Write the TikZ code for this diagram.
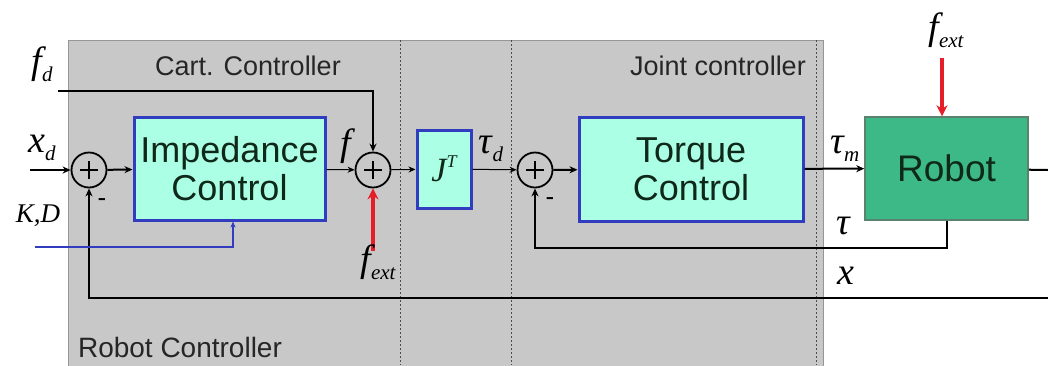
\documentclass[tikz,border=0pt]{standalone}
\usepackage{fontspec}
\setmainfont{Liberation Sans}
\newfontfamily\tms{Liberation Serif}
\usetikzlibrary{arrows.meta}
\definecolor{bggray}{RGB}{200,200,200}
\definecolor{bgedge}{RGB}{150,150,150}
\definecolor{boxfill}{RGB}{170,255,228}
\definecolor{boxedge}{RGB}{50,60,190}
\definecolor{robfill}{RGB}{60,185,135}
\definecolor{robedge}{RGB}{90,130,110}
\definecolor{txtdark}{RGB}{15,40,25}
\definecolor{fred}{RGB}{230,30,40}
\newcommand\ml[2]{{\tms\itshape\fontsize{38}{38}\selectfont #1}{\tms\itshape\fontsize{21}{21}\selectfont\raisebox{-0.4em}{#2}}}
\newcommand\mlsup[2]{{\tms\itshape\fontsize{34}{34}\selectfont #1}{\tms\itshape\fontsize{18}{18}\selectfont\raisebox{0.8em}{#2}}}
\tikzset{
  blockbox/.style={draw=boxedge, line width=3pt, fill=boxfill, rectangle, inner sep=0pt,
     text=txtdark, align=center, font=\fontsize{36}{38}\selectfont},
  robbox/.style={draw=robedge, line width=1.5pt, fill=robfill, rectangle, inner sep=0pt,
     text=txtdark, font=\fontsize{37}{38}\selectfont},
  sumnode/.style={draw, circle, line width=1.8pt, minimum size=35pt, inner sep=0pt,
     path picture={\draw[line width=1.8pt] ([xshift=-9pt]path picture bounding box.center) -- ([xshift=9pt]path picture bounding box.center);
                   \draw[line width=1.8pt] ([yshift=-9pt]path picture bounding box.center) -- ([yshift=9pt]path picture bounding box.center);}},
  sig/.style={line width=2pt, -{Stealth[length=8pt,width=7pt]}},
  sigline/.style={line width=2pt},
  thinsig/.style={line width=1pt, -{Stealth[length=7pt,width=6pt]}},
  redsig/.style={draw=fred, line width=3.5pt, -{Stealth[length=11pt,width=11pt]}},
  bluesig/.style={draw=boxedge, line width=1.5pt, -{Stealth[length=6pt,width=5pt]}},
  sep/.style={dash pattern=on 2pt off 2pt, line width=0.8pt, draw=black!70},
  lab/.style={inner sep=0pt},
  title/.style={inner sep=0pt, font=\fontsize{27}{27}\selectfont, text=black!85},
}
\begin{document}
\begin{tikzpicture}[x=1pt,y=-1pt]
\useasboundingbox (0,0) rectangle (1048,365);
% background
\fill[bggray] (68,40) rectangle (823,370);
\draw[bgedge, line width=1pt] (68,370) -- (68,40) -- (823,40) -- (823,370);
\draw[sep] (400,40) -- (400,365);
\draw[sep] (511,40) -- (511,365);
\draw[sep] (816,40) -- (816,365);
\node[title] (tcart) at (248,66) {Cart. Controller};
\node[title] (tjoint) at (718,66) {Joint controller};
\node[title, font=\fontsize{28}{28}\selectfont] (trob) at (180,347) {Robot Controller};

% blocks
\node[blockbox, minimum width=191pt, minimum height=103pt] (imp) at (229.5,168.5) {Impedance\\Control};
\node[blockbox, minimum width=54pt, minimum height=78pt] (jt) at (444,169) {\mlsup{J}{T}};
\node[blockbox, minimum width=224pt, minimum height=104pt] (tq) at (691,169) {Torque\\Control};
\node[robbox, minimum width=163pt, minimum height=103pt] (rob) at (946.5,168.5) {Robot};

\node[sumnode] (s1) at (89,170) {};
\node[sumnode] (s2) at (373,170) {};
\node[sumnode] (s3) at (535,170) {};

% free ends
\coordinate (xin) at (30,170);
\coordinate (fdin) at (58,91);
\coordinate (fe1) at (373,251);
\coordinate (fe2) at (942,58);
\coordinate (out) at (1048,170);
\coordinate (xfb) at (1048,298);
\coordinate (kd) at (35,247);
\coordinate (taufb) at (947,248);

% connectors
\draw[sig] (xin) -- (s1);
\draw[sig] (s1) -- (imp);
\draw[thinsig] (imp) -- (s2);
\draw[sig] (fdin) -- (s2.north |- fdin) -- (s2);
\draw[redsig] (fe1) -- (s2);
\draw[thinsig] (s2) -- (jt);
\draw[thinsig] (jt) -- (s3);
\draw[sig] (s3) -- (tq);
\draw[sig] (tq) -- (rob);
\draw[redsig] (fe2) -- (fe2 |- rob.north);
\draw[sigline] (rob) -- (out);
\draw[sig] (rob.south -| taufb) -- (taufb) -| (s3);
\draw[sig] (xfb) -| (s1);
\draw[bluesig] (kd) -| (imp.south -| 233,0);

% labels
\node[lab] (lfd) at (42,64) {\ml{f}{d}};
\node[lab] (lxd) at (42,148) {\ml{x}{d}};
\node[lab, font=\tms\itshape\fontsize{27}{27}\selectfont] (lkd) at (38,216) {K,D};
\node[lab] (lf) at (346,146) {\ml{f}{}};
\node[lab] (lfe1) at (378,262) {\ml{f}{ext}};
\node[lab] (ltd) at (491,149) {\ml{τ}{d}};
\node[lab] (ltm) at (845,149) {\ml{τ}{m}};
\node[lab] (lt) at (843,230) {\ml{τ}{}};
\node[lab] (lx) at (846,280) {\ml{x}{}};
\node[lab] (lfe2) at (946,30) {\ml{f}{ext}};
\node[lab, font=\fontsize{26}{26}\selectfont] (m1) at (102,203) {-};
\node[lab, font=\fontsize{26}{26}\selectfont] (m3) at (550,202) {-};
\end{tikzpicture}
\end{document}
